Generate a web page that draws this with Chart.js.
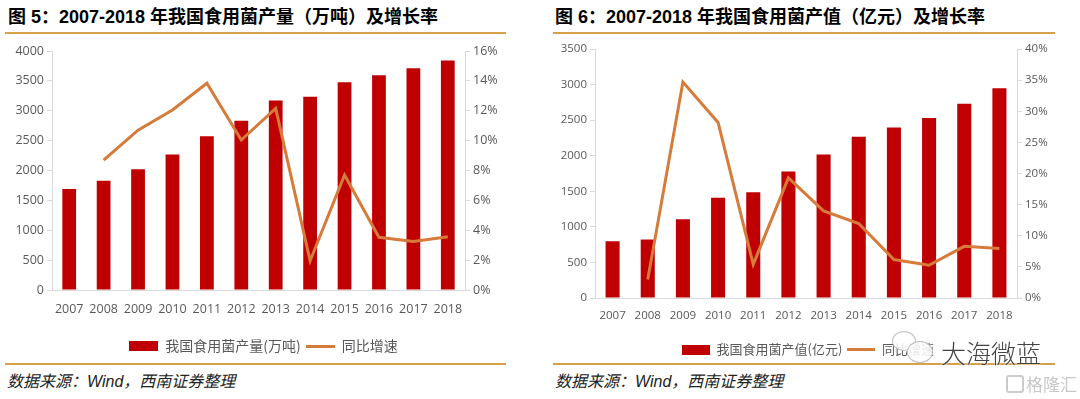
<!DOCTYPE html>
<html><head><meta charset="utf-8">
<script src="https://cdn.jsdelivr.net/npm/chart.js@4.4.0/dist/chart.umd.min.js"></script>
<style>
html,body{margin:0;padding:0;background:#fff;width:1080px;height:399px;overflow:hidden;position:relative;}
.title{position:absolute;top:6px;font-family:"Liberation Sans","Noto Sans CJK SC",sans-serif;font-weight:bold;font-size:18px;color:#000;white-space:nowrap;line-height:22px;}
.rule{position:absolute;height:2px;background:#D6A048;}
.src{position:absolute;top:372px;font-family:"Liberation Sans","Noto Sans CJK SC",sans-serif;font-style:italic;font-size:16px;color:#222;white-space:nowrap;line-height:20px;}
canvas{position:absolute;top:0;}
.wm{position:absolute;white-space:nowrap;font-family:"Noto Sans CJK SC",sans-serif;}
.bub{position:absolute;border:1.5px solid #bbb;border-radius:50%;background:rgba(255,255,255,0.85);}
</style></head><body>
<div class="title" style="left:8px">图 5：2007-2018 年我国食用菌产量（万吨）及增长率</div>
<div class="title" style="left:555px">图 6：2007-2018 年我国食用菌产值（亿元）及增长率</div>
<div class="rule" style="left:5px;top:32px;width:501px"></div>
<div class="rule" style="left:553px;top:32px;width:502px"></div>
<div class="rule" style="left:5px;top:363px;width:501px"></div>
<div class="rule" style="left:553px;top:363px;width:502px"></div>
<div class="src" style="left:7px">数据来源：Wind，西南证券整理</div>
<div class="src" style="left:555px">数据来源：Wind，西南证券整理</div>
<canvas id="c1" width="527" height="363" style="left:0px;width:527px;height:363px"></canvas>
<canvas id="c2" width="536" height="366" style="left:540px;width:536px;height:366px"></canvas>
<div class="bub" style="left:892px;top:331px;width:22px;height:18px"></div>
<div class="bub" style="left:907px;top:341px;width:24px;height:20px"></div>
<div class="wm" style="left:941px;top:334px;font-size:25px;font-weight:300;color:#444;text-shadow:0 0 2px #fff,0 0 2px #fff;">大海微蓝</div>
<div class="wm" style="left:1006px;top:375px;width:14px;height:14px;border:2px solid #ccc;border-radius:3px;"></div>
<div class="wm" style="left:1026px;top:371px;font-size:17px;color:#c8c8c8;">格隆汇</div>
<script>
// ---- data ----
const years = ['2007','2008','2009','2010','2011','2012','2013','2014','2015','2016','2017','2018'];
const outputVolume = [1690, 1830, 2022, 2268, 2572, 2832, 3172, 3235, 3478, 3596, 3713, 3842]; // 万吨
const volumeGrowth = [null, 8.7, 10.7, 12.05, 13.84, 10.04, 12.16, 1.96, 7.7, 3.53, 3.24, 3.57]; // %
const outputValue = [798, 822, 1107, 1410, 1485, 1779, 2018, 2266, 2398, 2529, 2731, 2947]; // 亿元
const valueGrowth = [null, 2.96, 34.7, 28.2, 5.4, 19.3, 14.0, 11.96, 6.17, 5.26, 8.3, 7.94]; // %
const volumeLabel = '我国食用菌产量(万吨)';
const valueLabel = '我国食用菌产值(亿元)';
const growthLabel = '同比增速';
const volumeAxis = {max: 4000, step: 500};
const volumeGrowthAxis = {max: 16, step: 2};
const valueAxis = {max: 3500, step: 500};
const valueGrowthAxis = {max: 40, step: 5};

const BAR = '#C00000', LINE = '#D67B39', AXIS = '#D9D9D9', TXT = '#595959';

function swatch(w, h, color) {
  const c = document.createElement('canvas');
  c.width = w; c.height = h;
  const x = c.getContext('2d');
  x.fillStyle = color; x.fillRect(0, 0, w, h);
  return c;
}

function makeChart(id, o) {
  const barSw = swatch(o.sw, 10, BAR), lineSw = swatch(o.sw, 3, LINE);
  const tickFont = {family: 'Open Sans', size: o.fs};
  return new Chart(document.getElementById(id), {
    type: 'bar',
    data: {
      labels: years,
      datasets: [
        {type: 'bar', label: o.barLabel, data: o.bars, backgroundColor: BAR,
         barPercentage: 0.4, categoryPercentage: 1, yAxisID: 'y', order: 2},
        {type: 'line', label: growthLabel, data: o.line, borderColor: LINE, backgroundColor: LINE,
         borderWidth: 3, pointRadius: 0, tension: 0, fill: false, yAxisID: 'y1', order: 1}
      ]
    },
    options: {
      responsive: false, animation: false, devicePixelRatio: 1,
      layout: {padding: {top: o.top, left: 0, right: 0, bottom: 0}},
      plugins: {
        tooltip: {enabled: false},
        legend: {
          position: 'bottom',
          labels: {
            usePointStyle: true, pointStyleWidth: o.sw, boxHeight: 10, padding: 5,
            color: TXT, font: {family: 'Noto Sans CJK SC', size: o.lfs},
            generateLabels(chart) {
              const items = Chart.defaults.plugins.legend.labels.generateLabels(chart);
              items.forEach(it => { it.pointStyle = it.datasetIndex === 0 ? barSw : lineSw; });
              return items;
            },
            sort: (a, b) => a.datasetIndex - b.datasetIndex
          }
        }
      },
      scales: {
        x: {
          grid: {display: false, drawTicks: false},
          border: {display: true, color: AXIS, width: 1},
          ticks: {color: TXT, font: tickFont, padding: o.xpad, maxRotation: 0, autoSkip: false},
          afterFit: s => { s.height = o.xh; }
        },
        y: {
          position: 'left', min: 0, max: o.ax.max,
          grid: {drawOnChartArea: false, drawTicks: true, tickLength: 5, color: AXIS},
          border: {display: true, color: AXIS, width: 1},
          ticks: {stepSize: o.ax.step, color: TXT, font: tickFont, padding: 3, callback: v => String(v)},
          afterFit: s => { s.width = o.lw; }
        },
        y1: {
          position: 'right', min: 0, max: o.ax1.max,
          grid: {drawOnChartArea: false, drawTicks: true, tickLength: 5, color: AXIS},
          border: {display: true, color: AXIS, width: 1},
          ticks: {stepSize: o.ax1.step, color: TXT, font: tickFont, padding: 3, callback: v => v + '%'},
          afterFit: s => { s.width = o.rw; }
        }
      }
    }
  });
}

makeChart('c1', {bars: outputVolume, line: volumeGrowth, barLabel: volumeLabel,
  ax: volumeAxis, ax1: volumeGrowthAxis, top: 51, lw: 52, rw: 62, xh: 44, xpad: 12, sw: 29, fs: 12.5, lfs: 14});
makeChart('c2', {bars: outputValue, line: valueGrowth, barLabel: valueLabel,
  ax: valueAxis, ax1: valueGrowthAxis, top: 49, lw: 55, rw: 59, xh: 40, xpad: 11, sw: 28, fs: 11.5, lfs: 13});
</script>
</body></html>
